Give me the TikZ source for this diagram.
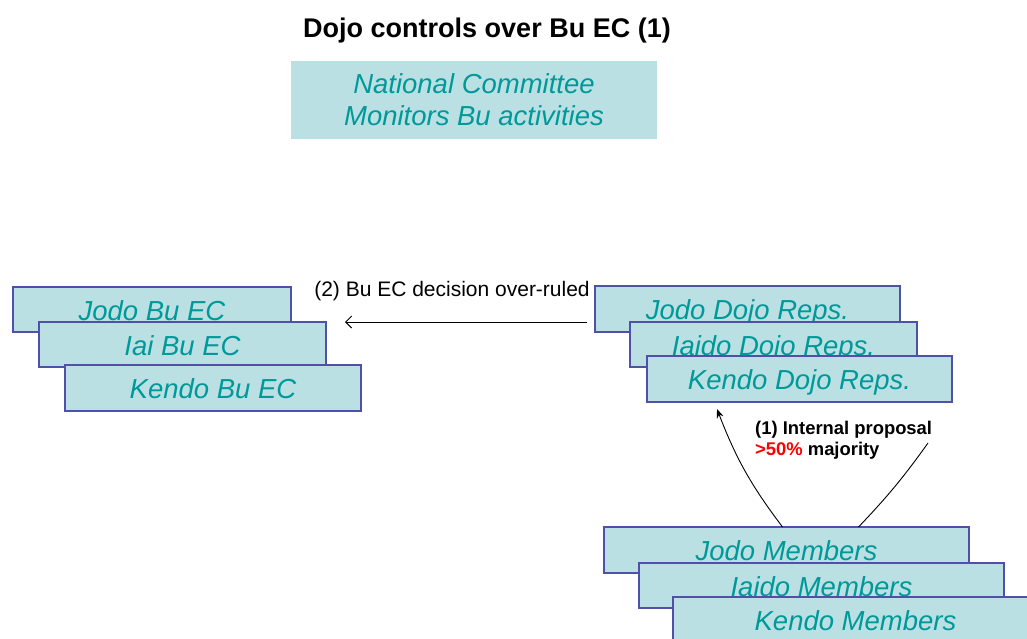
\documentclass[tikz,border=0pt]{standalone}
\usepackage{fontspec}
\setmainfont{Liberation Sans}
\usetikzlibrary{arrows.meta}
\definecolor{boxfill}{RGB}{187,224,227}
\definecolor{boxline}{RGB}{80,80,170}
\definecolor{boxtext}{RGB}{0,153,153}
\definecolor{redtxt}{RGB}{255,0,0}
\tikzset{
  boxnode/.style={draw=boxline, line width=1.2pt, fill=boxfill, inner sep=0pt, outer sep=0pt,
    text=boxtext, font=\fontsize{27.5}{32}\selectfont\itshape,
    text height=21.5pt, text depth=0pt},
  conn/.style={line width=0.9pt, black},
}
\begin{document}
\begin{tikzpicture}[x=1pt,y=-1pt]
\useasboundingbox (0,0) rectangle (1027,638);
% title
\node[anchor=base, font=\fontsize{27}{32}\selectfont\bfseries] (title) at (487,37) {Dojo controls over Bu EC (1)};
% national committee
\node[fill=boxfill, inner sep=0pt, minimum width=366pt, minimum height=78pt, text=boxtext,
  font=\fontsize{27.5}{32}\selectfont\itshape, align=center] (nc) at (474,100)
  {National Committee\\Monitors Bu activities};
% Bu EC stack
\node[boxnode, minimum width=278pt, minimum height=45pt] (jbe) at (152,309.5) {Jodo Bu EC};
\node[boxnode, minimum width=287pt, minimum height=45pt] (ibe) at (182.5,344.5) {Iai Bu EC};
\node[boxnode, minimum width=296pt, minimum height=46pt] (kbe) at (213,388) {Kendo Bu EC};
% Dojo reps stack
\node[boxnode, minimum width=305pt, minimum height=46pt] (jdr) at (747.5,309) {Jodo Dojo Reps.};
\node[boxnode, minimum width=287pt, minimum height=45pt] (idr) at (773.5,344.5) {Iaido Dojo Reps.};
\node[boxnode, minimum width=305pt, minimum height=46pt] (kdr) at (799.5,379) {Kendo Dojo Reps.};
% Members stack
\node[boxnode, minimum width=365pt, minimum height=46pt] (jm) at (786.5,550) {Jodo Members};
\node[boxnode, minimum width=365pt, minimum height=45pt] (im) at (821.5,585.5) {Iaido Members};
\node[boxnode, minimum width=365pt, minimum height=46pt] (km) at (855.5,620) {Kendo Members};
% arrow (2)
\node[anchor=base, font=\fontsize{21}{25}\selectfont] (lbl2) at (452,296) {(2) Bu EC decision over-ruled};
\draw[conn, -{Straight Barb[length=6pt,width=12pt,line width=0.9pt]}]
  ([xshift=-8pt,yshift=-13pt]jdr.west) -- ([xshift=19pt,yshift=22.5pt]ibe.east);
% arrow (1)
\node[anchor=base west, align=left, inner sep=0pt, font=\fontsize{18.4}{21}\selectfont\bfseries] (lbl1) at (755,455)
  {(1) Internal proposal\\\textcolor{redtxt}{>50\%} majority};
\coordinate (rend) at (928,443);
\draw[conn, -{Stealth[length=9pt,width=7pt]}]
  ([xshift=-4pt]jm.north) to[bend left=8] ([xshift=-82.5pt,yshift=-7pt]kdr.south);
\draw[conn] ([xshift=72pt]jm.north) to[bend right=4] (rend);
\end{tikzpicture}
\end{document}
